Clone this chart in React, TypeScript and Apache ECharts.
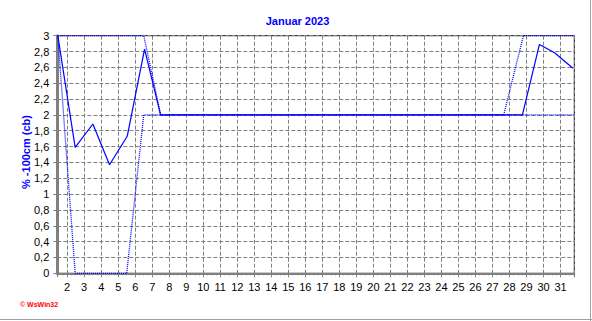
import React, { useEffect, useRef } from "react";
import * as echarts from "echarts";

// Solid line (mean) – day position, value
const avgDays = [1.45, 2.47, 3.51, 4.49, 5.53, 6.55, 7.49, 28.76, 29.76, 30.65, 31.73];
const avgValues = [3, 1.59, 1.885, 1.37, 1.73, 2.83, 2.0, 2.0, 2.89, 2.785, 2.59];
// Dotted upper line
const maxDays = [1.45, 6.5, 7.5, 27.66, 28.82, 31.81];
const maxValues = [3, 3, 2, 2, 3, 3];
// Dotted lower line
const minDays = [1.45, 2.47, 5.5, 6.5, 31.81];
const minValues = [3, 0, 0, 2, 2];

const titleText = "Januar 2023";
const yAxisTitle = "% -100cm (cb)";
const creditText = "© WsWin32";

const FONT = "'Liberation Sans', Arial, sans-serif";
const BLUE = "#0000ff";
const GREY = "#808080";

export default function App() {
  const ref = useRef<HTMLDivElement>(null);
  useEffect(() => {
    if (!ref.current) return;
    const chart = echarts.init(ref.current, null, { renderer: "svg" });
    const zip = (xs: number[], ys: number[]) => xs.map((x, i) => [x, ys[i]]);
    chart.setOption({
      animation: false,
      textStyle: { fontFamily: FONT },
      grid: {
        left: 57.3,
        right: 17.7,
        top: 35.7,
        bottom: 47.7,
        show: true,
        borderColor: "#000",
        borderWidth: 1,
        backgroundColor: "transparent",
        outerBoundsMode: "none",
      },
      xAxis: {
        type: "value",
        min: 1.42,
        max: 31.81,
        splitNumber: 30,
        minInterval: 1,
        maxInterval: 1,
        axisLine: { onZero: false, lineStyle: { color: GREY, width: 2 } },
        axisTick: { show: true, interval: 0, length: 4, lineStyle: { color: GREY } },
        minorTick: { show: true, splitNumber: 4, length: 2, lineStyle: { color: GREY } },
        axisLabel: {
          interval: 0,
          showMinLabel: false,
          showMaxLabel: false,
          color: "#000",
          fontSize: 11,
          fontFamily: FONT,
          margin: 8,
          formatter: (v: number) => (Math.abs(v - Math.round(v)) < 1e-6 ? String(Math.round(v)) : ""),
        },
        splitLine: { show: true, lineStyle: { color: GREY, type: [4, 2], width: 1 } },
      },
      yAxis: {
        type: "value",
        min: 0,
        max: 3,
        interval: 0.2,
        axisLine: { show: true, onZero: false, lineStyle: { color: GREY, width: 3 } },
        axisTick: { show: true, length: 4, lineStyle: { color: GREY } },
        axisLabel: {
          color: "#000",
          fontSize: 11,
          fontFamily: FONT,
          margin: 8,
          formatter: (v: number) => {
            const r = Math.round(v * 10) / 10;
            return Number.isInteger(r) ? String(r) : r.toFixed(1).replace(".", ",");
          },
        },
        splitLine: { show: true, lineStyle: { color: GREY, type: [4, 2], width: 1 } },
      },
      series: [
        {
          type: "line",
          data: zip(maxDays, maxValues),
          showSymbol: false,
          lineStyle: { color: BLUE, width: 1.3, type: [1, 1] },
          z: 3,
        },
        {
          type: "line",
          data: zip(minDays, minValues),
          showSymbol: false,
          lineStyle: { color: BLUE, width: 1.3, type: [1, 1] },
          z: 3,
        },
        {
          type: "line",
          data: zip(avgDays, avgValues),
          showSymbol: false,
          lineStyle: { color: BLUE, width: 1.2 },
          z: 4,
        },
      ],
      graphic: [
        {
          type: "text",
          x: 297.5,
          y: 20.7,
          style: {
            text: titleText,
            fill: BLUE,
            font: `bold 11px ${FONT}`,
            align: "center",
            verticalAlign: "middle",
          },
        },
        {
          type: "text",
          x: 25.5,
          y: 152,
          rotation: Math.PI / 2,
          style: {
            text: yAxisTitle,
            fill: BLUE,
            font: `bold 11px ${FONT}`,
            align: "center",
            verticalAlign: "middle",
          },
        },
        {
          type: "text",
          x: 20,
          y: 304.5,
          style: {
            text: creditText,
            fill: "#ff0000",
            font: `bold 7px ${FONT}`,
            align: "left",
            verticalAlign: "middle",
          },
        },
        {
          type: "line",
          shape: { x1: 0, y1: 319.5, x2: 592, y2: 319.5 },
          style: { stroke: "#a0a0a0", lineWidth: 1 },
        },
        {
          type: "line",
          shape: { x1: 590.5, y1: 0, x2: 590.5, y2: 321 },
          style: { stroke: "#a0a0a0", lineWidth: 1 },
        },
      ],
    });
    return () => chart.dispose();
  }, []);
  return (
    <div
      ref={ref}
      style={{ position: "absolute", left: 0, top: 0, width: 592, height: 321, background: "#fff" }}
    />
  );
}
